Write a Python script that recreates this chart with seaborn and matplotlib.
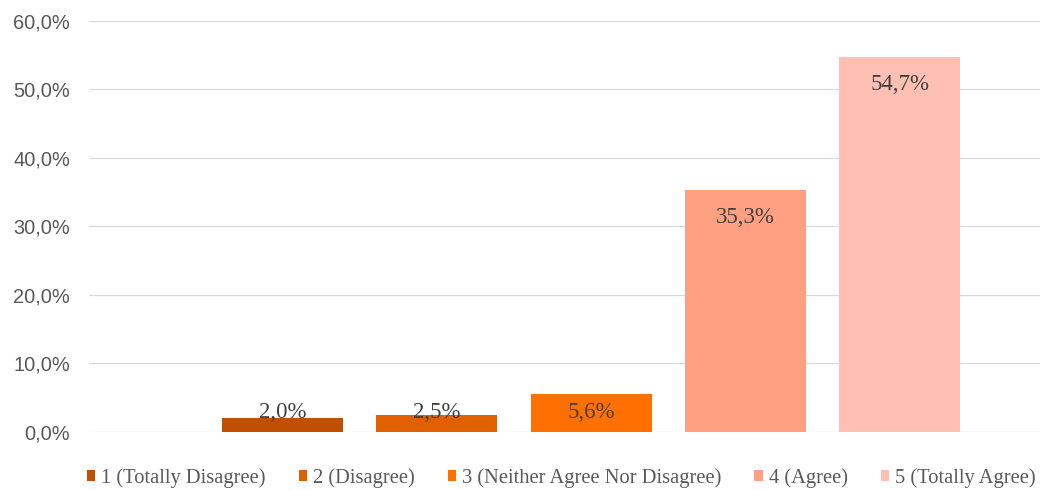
import matplotlib
matplotlib.use('Agg')
import matplotlib.pyplot as plt
import pandas as pd
import seaborn as sns
from matplotlib.ticker import FuncFormatter, MultipleLocator

# survey answers and their share of respondents (%)
categories = ['1 (Totally Disagree)', '2 (Disagree)', '3 (Neither Agree Nor Disagree)',
              '4 (Agree)', '5 (Totally Agree)']
shares = [2.0, 2.5, 5.6, 35.3, 54.7]
colors = ['#C05000', '#E06000', '#FF7000', '#FFA083', '#FFC0B3']

sns.set_style('white')
plt.rcParams['font.family'] = ['Liberation Serif', 'DejaVu Serif']


def pct(v, _pos=None):
    return f'{v:.1f}%'.replace('.', ',')


df = pd.DataFrame({'answer': categories, 'share': shares})

fig = plt.figure(figsize=(10.41, 4.90), dpi=100)
ax = fig.add_axes([89 / 1041, 1 - 432 / 490, (1040 - 89) / 1041, (432 - 20.7) / 490])

sns.barplot(data=df, x='answer', y='share', hue='answer', palette=colors,
            saturation=1, width=0.784, linewidth=0, ax=ax, legend=True, zorder=3)

ax.set_xlim(-1.254, 4.909)
ax.set_ylim(0, 60)
ax.yaxis.set_major_locator(MultipleLocator(10))
ax.yaxis.set_major_formatter(FuncFormatter(pct))
ax.grid(axis='y', color='#D9D9D9', linewidth=0.9, zorder=0)
ax.set_axisbelow(True)
ax.set_xticks([])
ax.set_xlabel('')
ax.set_ylabel('')
ax.tick_params(axis='y', length=0, pad=13.5, labelsize=14.4, labelcolor='#595959')
for lbl in ax.get_yticklabels():
    lbl.set_family('Liberation Sans')
for s in ax.spines.values():
    s.set_visible(False)

# data labels (inside end, kept above the axis for short bars)
for i, v in enumerate(shares):
    ax.text(i, max(v - 4.75, 2.0), pct(v), ha='center', va='baseline',
            fontsize=16.5, color='#404040', zorder=5)

handles, labels = ax.get_legend_handles_labels()
ax.legend(handles, labels, loc='center left', bbox_to_anchor=(87 / 1041, 1 - 478 / 490),
          bbox_transform=fig.transFigure, ncol=5, frameon=False, fontsize=14.8,
          handlelength=0.4, handleheight=0.4, handletextpad=0.3, columnspacing=1.6,
          borderpad=0, borderaxespad=0, labelcolor='#595959')

fig.savefig('out.png', dpi=100)
